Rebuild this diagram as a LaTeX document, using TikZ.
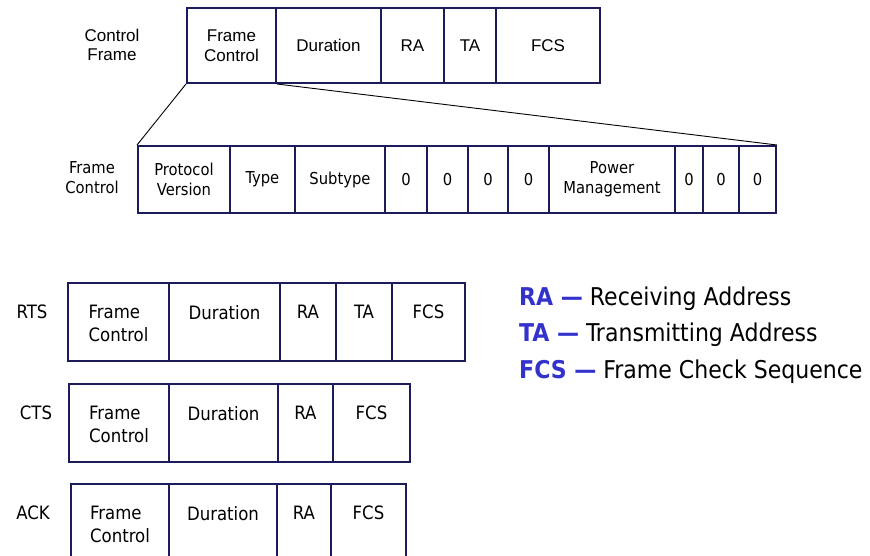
\documentclass[tikz,border=0pt]{standalone}
\usepackage{fontspec}
\setmainfont{Liberation Sans}
\newfontfamily\tahoma{DejaVu Sans Condensed}
\definecolor{boxline}{RGB}{28,28,92}
\definecolor{keyblue}{RGB}{51,51,204}

\tikzset{
  cell/.style={draw=boxline, line width=2pt, inner sep=0pt, anchor=north west, align=center},
  topcell/.style={cell, minimum height=75pt, font=\fontsize{17}{19.5}\selectfont},
  bitcell/.style={cell, minimum height=67pt, font=\tahoma\fontsize{16.4}{20}\selectfont},
  frcell/.style={cell, minimum height=78pt},
  celltext/.style={anchor=north, inner sep=0pt, font=\tahoma\fontsize{18.4}{23}\selectfont},
  rowlabel/.style={celltext},
  zoomline/.style={draw=black, line width=0.9pt},
  keyline/.style={anchor=base west, inner sep=0pt, font=\tahoma\fontsize{24.5}{29}\selectfont}
}

\begin{document}
\begin{tikzpicture}[x=1pt, y=-1pt]
\useasboundingbox (0,0) rectangle (870,555);
\clip (0,0) rectangle (870,555);

% Control frame layout
\node[font=\fontsize{17}{19.5}\selectfont, align=center, inner sep=0pt] (cflabel) at (112,45) {Control\\Frame};
\node[topcell, minimum width=89pt]  (cfA) at (186,7) {Frame\\Control};
\node[topcell, minimum width=105pt] (cfB) at (275,7) {Duration};
\node[topcell, minimum width=63pt]  (cfC) at (380,7) {RA};
\node[topcell, minimum width=52pt]  (cfD) at (443,7) {TA};
\node[topcell, minimum width=104pt] (cfE) at (495,7) {FCS};

% Frame control field, bit by bit
\node[font=\tahoma\fontsize{16.4}{20}\selectfont, align=center, inner sep=0pt] (fclabel) at (92,178) {Frame\\Control};
\node[bitcell, minimum width=92pt]  (fc1)  at (137,145) {Protocol\\Version};
\node[bitcell, minimum width=65pt]  (fc2)  at (229,145) {Type};
\node[bitcell, minimum width=90pt]  (fc3)  at (294,145) {Subtype};
\node[bitcell, minimum width=42pt]  (fc4)  at (384,145) {0};
\node[bitcell, minimum width=41pt]  (fc5)  at (426,145) {0};
\node[bitcell, minimum width=40pt]  (fc6)  at (467,145) {0};
\node[bitcell, minimum width=41pt]  (fc7)  at (507,145) {0};
\node[bitcell, minimum width=126pt] (fc8)  at (548,145) {Power\\Management};
\node[bitcell, minimum width=28pt]  (fc9)  at (674,145) {0};
\node[bitcell, minimum width=36pt]  (fc10) at (702,145) {0};
\node[bitcell, minimum width=37pt]  (fc11) at (738,145) {0};

\draw[zoomline] (cfA.south west) -- (fc1.north west);
\draw[zoomline] (cfA.south east) -- (fc11.north east);

% RTS
\node[rowlabel] (rtslabel) at (32,305) {RTS};
\node[frcell, minimum width=101pt] (rts1) at (67,282) {};
\node[frcell, minimum width=111pt] (rts2) at (168,282) {};
\node[frcell, minimum width=56pt]  (rts3) at (279,282) {};
\node[frcell, minimum width=56pt]  (rts4) at (335,282) {};
\node[frcell, minimum width=73pt]  (rts5) at (391,282) {};
\node[celltext, align=left] (rts1t) at ([yshift=-23pt]rts1.north) {Frame\\Control};
\node[celltext] (rts2t) at ([yshift=-23pt]rts2.north) {Duration};
\node[celltext] (rts3t) at ([yshift=-23pt]rts3.north) {RA};
\node[celltext] (rts4t) at ([yshift=-23pt]rts4.north) {TA};
\node[celltext] (rts5t) at ([yshift=-23pt]rts5.north) {FCS};

% CTS
\node[rowlabel] (ctslabel) at (36,406) {CTS};
\node[frcell, minimum width=100pt] (cts1) at (68,383) {};
\node[frcell, minimum width=109pt] (cts2) at (168,383) {};
\node[frcell, minimum width=55pt]  (cts3) at (277,383) {};
\node[frcell, minimum width=77pt]  (cts4) at (332,383) {};
\node[celltext, align=left] (cts1t) at ([yshift=-23pt]cts1.north) {Frame\\Control};
\node[celltext] (cts2t) at ([yshift=-23pt]cts2.north) {Duration};
\node[celltext] (cts3t) at ([yshift=-23pt]cts3.north) {RA};
\node[celltext] (cts4t) at ([yshift=-23pt]cts4.north) {FCS};

% ACK
\node[rowlabel] (acklabel) at (33,506) {ACK};
\node[frcell, minimum width=98pt]  (ack1) at (70,483) {};
\node[frcell, minimum width=108pt] (ack2) at (168,483) {};
\node[frcell, minimum width=54pt]  (ack3) at (276,483) {};
\node[frcell, minimum width=75pt]  (ack4) at (330,483) {};
\node[celltext, align=left] (ack1t) at ([yshift=-23pt]ack1.north) {Frame\\Control};
\node[celltext] (ack2t) at ([yshift=-23pt]ack2.north) {Duration};
\node[celltext] (ack3t) at ([yshift=-23pt]ack3.north) {RA};
\node[celltext] (ack4t) at ([yshift=-23pt]ack4.north) {FCS};

% Legend
\node[keyline] (keyra)  at (519,305) {\textcolor{keyblue}{\bfseries RA —} Receiving Address};
\node[keyline] (keyta)  at (519,341.5) {\textcolor{keyblue}{\bfseries TA —} Transmitting Address};
\node[keyline] (keyfcs) at (519,378.5) {\textcolor{keyblue}{\bfseries FCS —} Frame Check Sequence};
\end{tikzpicture}
\end{document}
